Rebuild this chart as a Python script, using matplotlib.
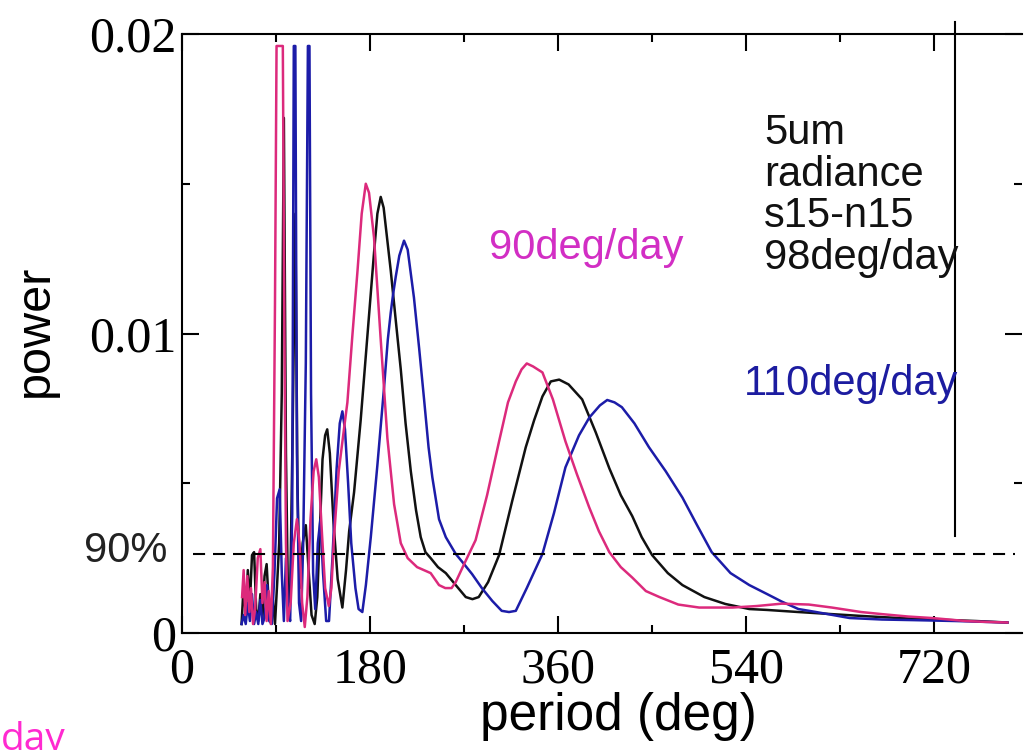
import matplotlib
matplotlib.use("Agg")
import matplotlib.pyplot as plt
import numpy as np
from matplotlib.ticker import FixedLocator, FixedFormatter

# periodogram power vs. period (deg) for three drift rates
period_90 = [57.5, 59, 60.5, 62.5, 64.5, 66, 68, 70, 72.5, 75, 77, 79, 81, 83, 85, 87,
             89, 90.5, 96.5, 98, 99.5, 101, 104, 107, 110, 112.5, 115, 117.5, 120, 123,
             126, 128.5, 131, 134, 137, 140.5, 143, 145.5, 150, 155, 158.3, 163, 168, 172,
             175.9, 179, 183.8, 187, 190, 196.6, 203, 209.4, 216, 225, 238, 246, 252, 258,
             262, 270, 281, 292, 303.5, 312, 319.5, 325, 330, 336, 345, 355, 367, 378,
             389.7, 399, 409, 420, 431, 444, 457, 475, 495, 527, 550, 574, 600, 622, 650,
             670, 695, 718, 750, 770, 790]
power_90 = [0.0012, 0.0021, 0.0006, 0.0019, 0.0007, 0.0015, 0.0003, 0.0008, 0.0025, 0.0028,
            0.0010, 0.0017, 0.0004, 0.0014, 0.0003, 0.0022, 0.0110, 0.0196, 0.0196, 0.0100,
            0.0030, 0.0004, 0.0010, 0.0030, 0.0038, 0.0030, 0.0010, 0.0002, 0.0012, 0.0038,
            0.0054, 0.0058, 0.0052, 0.0033, 0.0015, 0.0009, 0.0015, 0.0032, 0.0054, 0.0068,
            0.0077, 0.0099, 0.0121, 0.0140, 0.0150, 0.0147, 0.0132, 0.0115, 0.0099, 0.0065,
            0.0043, 0.0030, 0.0025, 0.0022, 0.0020, 0.0016, 0.0015, 0.0015, 0.0017, 0.0023,
            0.0031, 0.0046, 0.0064, 0.0077, 0.0084, 0.0088, 0.0090, 0.0089, 0.0087, 0.0078,
            0.0064, 0.0053, 0.0042, 0.0034, 0.0027, 0.0022, 0.00185, 0.0014, 0.0012, 0.00095,
            0.00085, 0.00085, 0.0009, 0.00098, 0.00095, 0.00085, 0.0007, 0.00063, 0.00055,
            0.0005, 0.0004, 0.00037, 0.00035]

period_98 = [57, 59, 61, 63, 65, 67, 69, 71, 73, 75, 77, 79, 81, 83, 85, 87, 89, 91, 93,
             95.5, 97.5, 99.5, 101.5, 103.5, 106, 108.5, 110.5, 112.5, 115.5, 118.5, 121,
             124, 127, 129.5, 132, 134.5, 137, 139, 141.5, 145, 149, 153.5, 157, 160, 164.7,
             171, 177.4, 183.8, 187, 190.2, 193, 199.8, 205, 209.4, 214, 219, 224, 228.5,
             233, 238, 245, 252.5, 262, 271.6, 278, 284, 293, 303.5, 316, 329, 337, 345, 353,
             361, 370, 383, 396, 409, 420, 431, 440, 450, 465, 479, 500, 520, 543, 560, 590,
             622, 650, 686, 720, 760, 790]
power_98 = [0.0003, 0.0016, 0.0006, 0.0021, 0.0010, 0.0026, 0.0027, 0.0008, 0.0004, 0.0013,
            0.0005, 0.0019, 0.0023, 0.0010, 0.0004, 0.0011, 0.0003, 0.0016, 0.0030, 0.0080,
            0.0172, 0.0060, 0.0010, 0.0012, 0.0070, 0.0140, 0.0050, 0.0015, 0.0030, 0.0036,
            0.0022, 0.0006, 0.0003, 0.0012, 0.0035, 0.0058, 0.0066, 0.0068, 0.0060, 0.0037,
            0.0018, 0.00085, 0.0021, 0.0034, 0.0047, 0.0071, 0.0099, 0.0127, 0.0140, 0.01456,
            0.0142, 0.0121, 0.0103, 0.0088, 0.0070, 0.0054, 0.0041, 0.0032, 0.0027, 0.0025,
            0.0022, 0.0020, 0.0016, 0.0012, 0.00113, 0.0012, 0.0017, 0.0026, 0.0044, 0.0062,
            0.0071, 0.0079, 0.0084, 0.00846, 0.0083, 0.0078, 0.0067, 0.0055, 0.0046, 0.0039,
            0.0032, 0.0026, 0.0020, 0.0016, 0.0012, 0.00097, 0.0008, 0.00077, 0.0007,
            0.00063, 0.00057, 0.0005, 0.00045, 0.0004, 0.00035]

period_110 = [57, 59, 61, 63, 65, 67, 69, 71, 73, 75, 77, 79, 81.5, 83.5, 86, 88.5, 91, 93.5,
              95.5, 97.5, 99.5, 101.5, 103.5, 105.5, 107, 108.5, 110, 112, 114, 116, 118.5,
              120.5, 122, 123.5, 125.5, 127.5, 130, 132.5, 135, 138, 140.7, 144, 148, 151,
              153.5, 156, 159, 162, 166, 169, 172.6, 176, 180.7, 187, 193.4, 197, 199.8, 202,
              204.6, 208, 212.5, 216, 222, 227, 231.7, 236, 239.6, 246, 252.5, 262, 270,
              277.6, 287, 297, 306, 313, 319.5, 330, 345, 356, 367, 380, 390, 400, 407, 414,
              421, 433, 447, 463, 479, 493, 507, 525, 543, 560, 574, 590, 607, 623, 639, 670,
              700, 740, 790]
power_110 = [0.0003, 0.0006, 0.0003, 0.0010, 0.0004, 0.0013, 0.0003, 0.0007, 0.0003, 0.0011,
             0.0003, 0.0005, 0.0016, 0.0004, 0.0003, 0.0020, 0.0045, 0.0048, 0.0020, 0.0004,
             0.0025, 0.0008, 0.0004, 0.0040, 0.0196, 0.0196, 0.0060, 0.0010, 0.0004, 0.0030,
             0.0090, 0.0196, 0.0196, 0.0080, 0.0020, 0.0008, 0.0030, 0.0038, 0.0020, 0.0004,
             0.0004, 0.0025, 0.0055, 0.0070, 0.0074, 0.0068, 0.0050, 0.0030, 0.0015, 0.0008,
             0.0007, 0.0016, 0.0032, 0.0056, 0.0082, 0.0098, 0.0107, 0.0113, 0.0119, 0.0126,
             0.0131, 0.0128, 0.0112, 0.0095, 0.0078, 0.0062, 0.0052, 0.0038, 0.0032, 0.00264,
             0.0023, 0.00197, 0.0015, 0.00107, 0.00074, 0.0007, 0.00074, 0.0015, 0.00264,
             0.0040, 0.00553, 0.0066, 0.0072, 0.0076, 0.00778, 0.0077, 0.00754, 0.0070,
             0.0062, 0.0054, 0.00452, 0.0036, 0.0027, 0.0020, 0.0016, 0.0013, 0.00105, 0.0008,
             0.0007, 0.0006, 0.0005, 0.00045, 0.00043, 0.0004, 0.00035]

level_90pct = 0.00264
marker_period = 740
marker_span = [0.00324, 0.0204]

xticks_major = [0, 180, 360, 540, 720]
xticks_minor = [90, 270, 450, 630]
xtick_labels = ["0", "180", "360", "540", "720"]
yticks_major = [0, 0.01, 0.02]
yticks_minor = [0.005, 0.015]
ytick_labels = ["0", "0.01", "0.02"]

c_black = "#111111"
c_blue = "#1c1ca8"
c_pink = "#dc2a7c"

fig = plt.figure(figsize=(10.24, 7.5), dpi=100)
ax = fig.add_axes([182 / 1024, 1 - 633 / 750, 840 / 1024, 599 / 750])

ax.plot(period_98, power_98, color=c_black, lw=1.8)
ax.plot(period_110, power_110, color=c_blue, lw=1.8)
ax.plot(period_90, power_90, color=c_pink, lw=1.8)

ax.plot([11, 797], [level_90pct, level_90pct], color="black", lw=1.5,
        dashes=(5.8, 3.8))
ax.plot([marker_period, marker_period], marker_span, color="black", lw=1.5,
        clip_on=False)

ax.set_xlim(0, 804)
ax.set_ylim(0, 0.02)

ax.xaxis.set_major_locator(FixedLocator(xticks_major))
ax.xaxis.set_major_formatter(FixedFormatter(xtick_labels))
ax.xaxis.set_minor_locator(FixedLocator(xticks_minor))
ax.yaxis.set_major_locator(FixedLocator(yticks_major))
ax.yaxis.set_major_formatter(FixedFormatter(ytick_labels))
ax.yaxis.set_minor_locator(FixedLocator(yticks_minor))

ax.tick_params(which="both", direction="in", top=True, right=True, width=1.5,
               labelsize=36, labelfontfamily="Liberation Serif")
ax.tick_params(which="major", length=12)
ax.tick_params(which="minor", length=6)
ax.tick_params(axis="x", pad=10)
ax.tick_params(axis="y", pad=4)

for side in ["left", "bottom", "top"]:
    ax.spines[side].set_linewidth(1.5)
ax.spines["right"].set_visible(False)

sans = "Liberation Sans"
ax.set_xlabel("period (deg)", fontsize=37, family=sans)
ax.xaxis.set_label_coords(0.52, -0.098)
ax.set_ylabel("power", fontsize=35, family=sans)
ax.yaxis.set_label_coords(-0.148, 0.505)

ax.text(557, 0.01735, "5um\nradiance\ns15-n15\n98deg/day", fontsize=30, family=sans,
        color=c_black, va="top", ha="left", linespacing=1.05)
ax.text(294, 0.01284, "90deg/day", fontsize=30, family=sans, color="#d22ec4",
        va="center", ha="left")
ax.text(538, 0.00833, "110deg/day", fontsize=30, family=sans, color="#1c1ca0",
        va="center", ha="left")
ax.text(-94, 0.00274, "90%", fontsize=30, family=sans, color="#222222",
        va="center", ha="left", clip_on=False)

fig.text(1 / 1024, 0.0, "day", fontsize=28, family="Open Sans", color="#ff2ad0",
         va="baseline", ha="left")

fig.savefig("out.png", dpi=100)
